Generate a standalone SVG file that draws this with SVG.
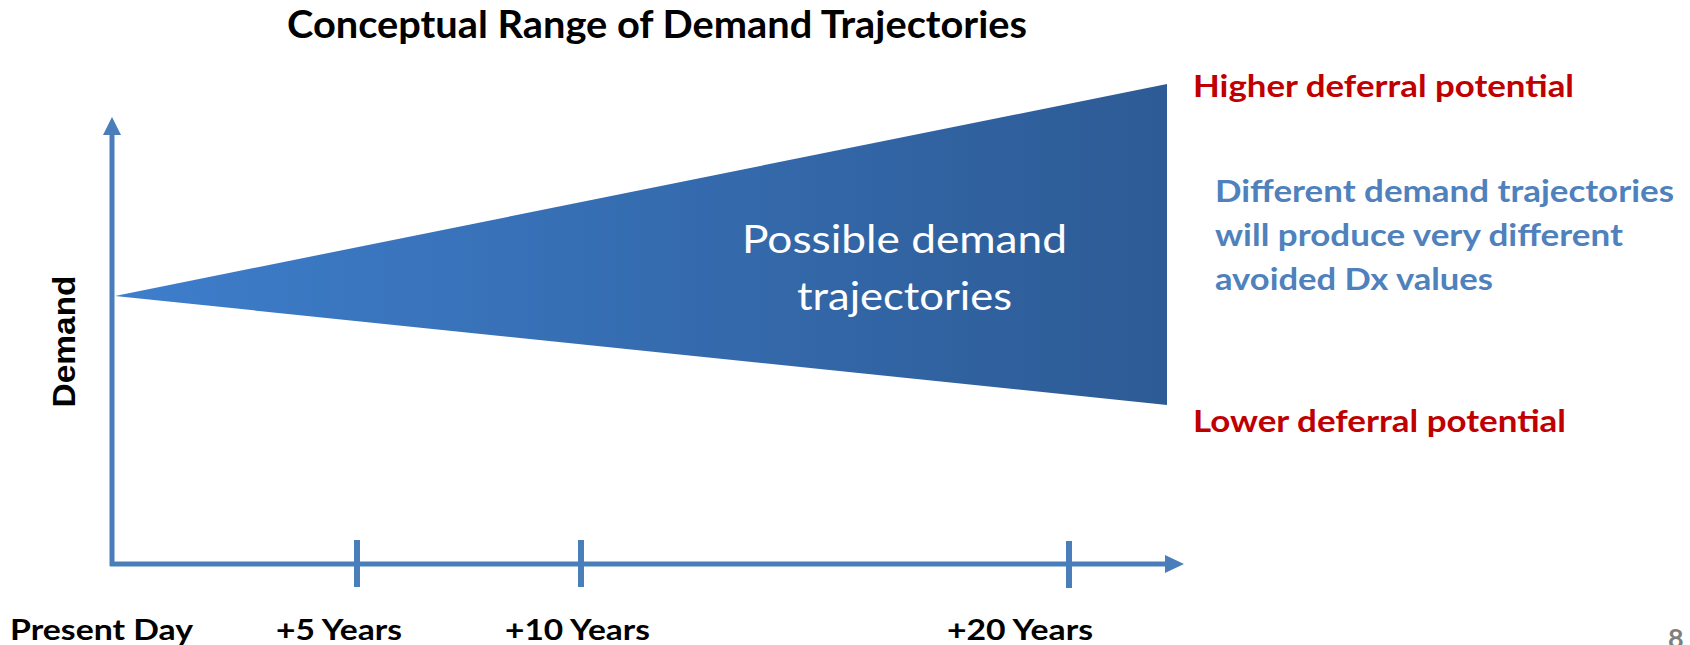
<svg xmlns="http://www.w3.org/2000/svg" width="1690" height="645" viewBox="0 0 1690 645">
  <style>
    text { font-family: Lato, "Open Sans", "Liberation Sans", sans-serif; }
    .b { font-weight: 700; }
    .title { font-size: 38px; fill: #000000; }
    .red { font-size: 31px; fill: #C00000; }
    .blue { font-size: 31px; fill: #4F81BD; }
    .tick { font-size: 29px; fill: #000000; }
    .axis { stroke: #4A7EBB; stroke-width: 5; fill: none; }
    .tk { stroke: #4A7EBB; stroke-width: 6; }
    .inner { font-size: 39px; fill: #FFFFFF; font-weight: 400; }
  </style>
  <defs>
    <linearGradient id="fan" x1="115" y1="0" x2="1167" y2="0" gradientUnits="userSpaceOnUse">
      <stop offset="0" stop-color="#3E7ECC"/>
      <stop offset="1" stop-color="#2D5B95"/>
    </linearGradient>
  </defs>
  <rect x="0" y="0" width="1690" height="645" fill="#FFFFFF"/>

  <g id="title">
    <text class="title b" x="287" y="38" textLength="740" lengthAdjust="spacingAndGlyphs">Conceptual Range of Demand Trajectories</text>
  </g>

  <g id="trajectories">
    <polygon points="115,296 1167,84 1167,405" fill="url(#fan)"/>
    <text class="inner" x="742" y="253" textLength="325" lengthAdjust="spacingAndGlyphs">Possible demand</text>
    <text class="inner" x="797" y="310" textLength="215" lengthAdjust="spacingAndGlyphs">trajectories</text>
  </g>

  <g id="connectors">
    <line class="axis" x1="112" y1="132" x2="112" y2="566"/>
    <polygon points="112,117 103,135 121,135" fill="#4A7EBB"/>
    <line class="axis" x1="110" y1="564" x2="1168" y2="564"/>
    <polygon points="1184,564 1165,555 1165,573" fill="#4A7EBB"/>
    <line class="tk" x1="357" y1="540" x2="357" y2="587"/>
    <line class="tk" x1="581" y1="540" x2="581" y2="587"/>
    <line class="tk" x1="1069" y1="541" x2="1069" y2="588"/>
  </g>

  <g id="y-label">
    <text class="b" x="0" y="0" transform="translate(75,341.5) rotate(-90)" text-anchor="middle" style="font-family:'Liberation Sans', Arial, sans-serif; font-size:32px; fill:#000" textLength="132" lengthAdjust="spacingAndGlyphs">Demand</text>
  </g>

  <g id="x-labels">
    <text class="tick b" x="10" y="640" textLength="183" lengthAdjust="spacingAndGlyphs">Present Day</text>
    <text class="tick b" x="276" y="640" textLength="126" lengthAdjust="spacingAndGlyphs">+5 Years</text>
    <text class="tick b" x="505" y="640" textLength="145" lengthAdjust="spacingAndGlyphs">+10 Years</text>
    <text class="tick b" x="947" y="640" textLength="146" lengthAdjust="spacingAndGlyphs">+20 Years</text>
  </g>

  <g id="higher">
    <text class="red b" x="1193" y="97" textLength="381" lengthAdjust="spacingAndGlyphs">Higher deferral potential</text>
  </g>

  <g id="note">
    <text class="blue b" x="1215" y="202" textLength="459" lengthAdjust="spacingAndGlyphs">Different demand trajectories</text>
    <text class="blue b" x="1215" y="246" textLength="408" lengthAdjust="spacingAndGlyphs">will produce very different</text>
    <text class="blue b" x="1215" y="290" textLength="278" lengthAdjust="spacingAndGlyphs">avoided Dx values</text>
  </g>

  <g id="lower">
    <text class="red b" x="1193" y="432" textLength="373" lengthAdjust="spacingAndGlyphs">Lower deferral potential</text>
  </g>

  <g id="page-number">
    <text class="b" x="1668" y="648" style="font-size:27px; fill:#7F7F7F">8</text>
  </g>
</svg>
